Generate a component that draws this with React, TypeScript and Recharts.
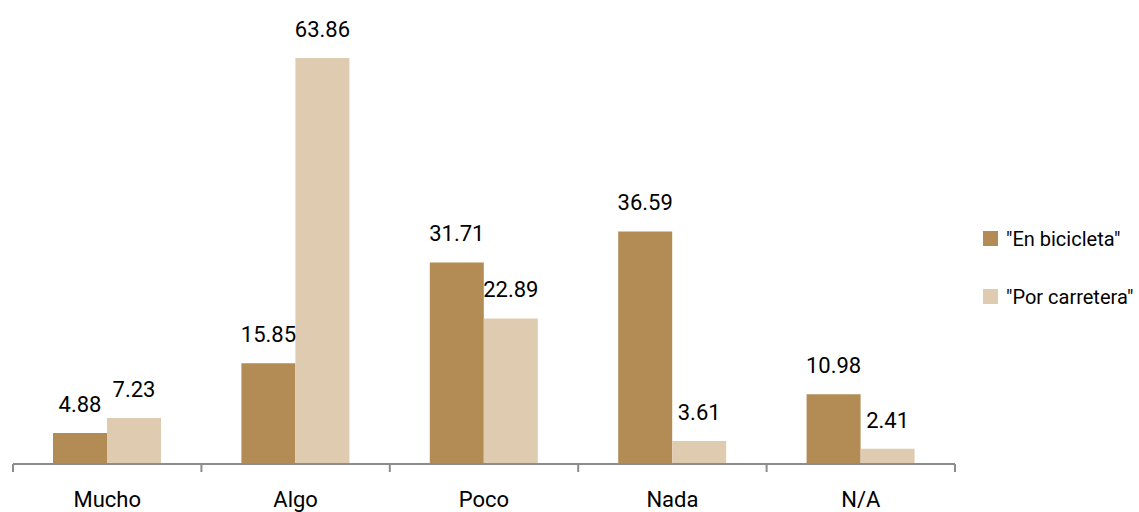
import { BarChart, Bar, XAxis, YAxis, LabelList } from 'recharts';

const categories = ['Mucho', 'Algo', 'Poco', 'Nada', 'N/A'];
const bicicleta = [4.88, 15.85, 31.71, 36.59, 10.98];
const carretera = [7.23, 63.86, 22.89, 3.61, 2.41];
const seriesNames = ['"En bicicleta"', '"Por carretera"'];

const data = categories.map((c, i) => ({ name: c, bici: bicicleta[i], carr: carretera[i] }));

const FONT = 'Roboto, "Liberation Sans", sans-serif';
const DARK = '#b38b55';
const LIGHT = '#dfcbb0';
const AXIS = '#8c8c8c';

const W = 1139;
const H = 512;
const M = { top: 19, right: 184, bottom: 0, left: 13 };
const BAND = (W - M.left - M.right) / categories.length;

function Tick(props: any) {
  const { x, y, payload, index } = props;
  const left = x - BAND / 2;
  return (
    <g>
      <line x1={left} x2={left} y1={y - 8} y2={y} stroke={AXIS} strokeWidth={2} />
      {index === categories.length - 1 && (
        <line x1={x + BAND / 2} x2={x + BAND / 2} y1={y - 8} y2={y} stroke={AXIS} strokeWidth={2} />
      )}
      <text x={x} y={y + 35} textAnchor="middle" fontFamily={FONT} fontSize={22} fill="#000">
        {payload.value}
      </text>
    </g>
  );
}

function LegendBox() {
  return (
    <div style={{ fontFamily: FONT, position: 'absolute', left: 983, top: 224, fontSize: 20, color: '#000', whiteSpace: 'nowrap' }}>
      {seriesNames.map((n, i) => (
        <div key={n} style={{ display: 'flex', alignItems: 'center', height: 29, marginBottom: i === 0 ? 29 : 0 }}>
          <span style={{ width: 15, height: 15, background: i === 0 ? DARK : LIGHT, marginRight: 8, display: 'inline-block' }} />
          {n}
        </div>
      ))}
    </div>
  );
}

export default function App() {
  return (
    <div style={{ position: 'absolute', left: 0, top: 0, width: W, height: H, background: '#fff' }}>
      <BarChart width={W} height={H} data={data} margin={M} barGap={0} barCategoryGap={40}>
        <XAxis
          dataKey="name"
          height={48}
          axisLine={{ stroke: AXIS, strokeWidth: 2 }}
          tickLine={false}
          tick={<Tick />}
          interval={0}
        />
        <YAxis hide domain={[0, 70]} />
        <Bar dataKey="bici" fill={DARK} isAnimationActive={false}>
          <LabelList dataKey="bici" position="top" offset={21} fontFamily={FONT} fontSize={22} fill="#000" />
        </Bar>
        <Bar dataKey="carr" fill={LIGHT} isAnimationActive={false}>
          <LabelList dataKey="carr" position="top" offset={21} fontFamily={FONT} fontSize={22} fill="#000" />
        </Bar>
      </BarChart>
      <LegendBox />
    </div>
  );
}
